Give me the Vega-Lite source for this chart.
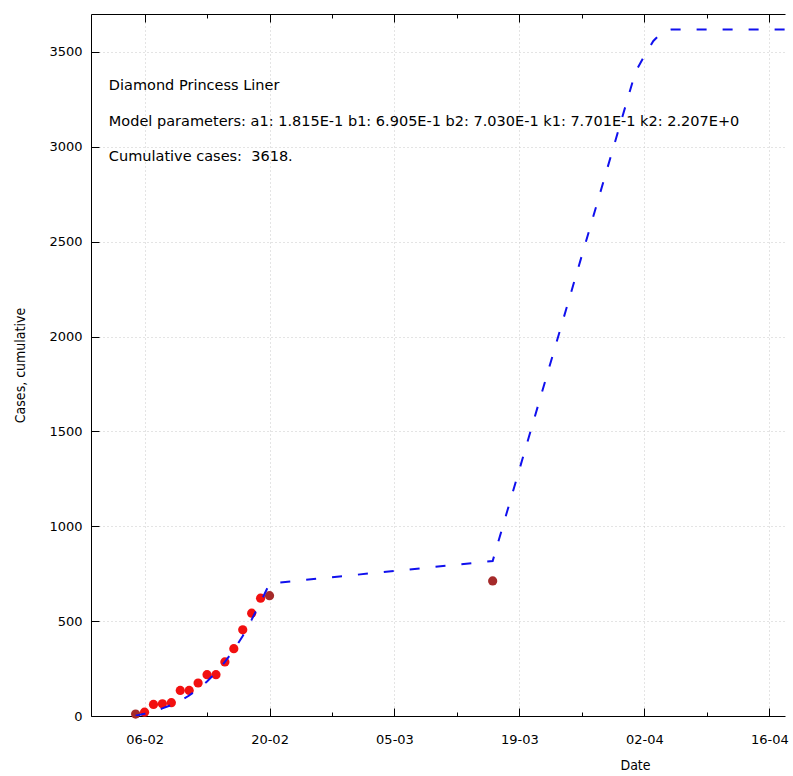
{
  "$schema": "https://vega.github.io/schema/vega-lite/v6.json",
  "width": 694,
  "height": 702,
  "autosize": {"type": "none"},
  "padding": {"left": 91, "top": 14, "right": 8, "bottom": 60},
  "background": "white",
  "config": {
    "view": {"stroke": null},
    "axis": {
      "domainColor": "black",
      "domainWidth": 1,
      "tickColor": "black",
      "tickWidth": 1,
      "labelColor": "black",
      "titleColor": "black",
      "labelFont": "DejaVu Sans",
      "labelFontSize": 13,
      "titleFont": "DejaVu Sans Condensed, Liberation Sans Narrow, DejaVu Sans",
      "titleFontSize": 14,
      "titleFontWeight": "normal",
      "gridColor": "#c8c8c8",
      "gridDash": [1, 3],
      "gridWidth": 1,
      "labelOverlap": false,
      "labelFlush": false
    }
  },
  "resolve": {"axis": {"x": "independent", "y": "independent"}},
  "layer": [
    {
      "data": {
        "values": [
          {"date": "2020-02-05T00:00", "cases": 10, "type": "excluded"},
          {"date": "2020-02-06T00:00", "cases": 20, "type": "fitted"},
          {"date": "2020-02-07T00:00", "cases": 61, "type": "fitted"},
          {"date": "2020-02-08T00:00", "cases": 64, "type": "fitted"},
          {"date": "2020-02-09T00:00", "cases": 70, "type": "fitted"},
          {"date": "2020-02-10T00:00", "cases": 135, "type": "fitted"},
          {"date": "2020-02-11T00:00", "cases": 135, "type": "fitted"},
          {"date": "2020-02-12T00:00", "cases": 174, "type": "fitted"},
          {"date": "2020-02-13T00:00", "cases": 218, "type": "fitted"},
          {"date": "2020-02-14T00:00", "cases": 218, "type": "fitted"},
          {"date": "2020-02-15T00:00", "cases": 285, "type": "fitted"},
          {"date": "2020-02-16T00:00", "cases": 355, "type": "fitted"},
          {"date": "2020-02-17T00:00", "cases": 454, "type": "fitted"},
          {"date": "2020-02-18T00:00", "cases": 542, "type": "fitted"},
          {"date": "2020-02-19T00:00", "cases": 621, "type": "fitted"},
          {"date": "2020-02-20T00:00", "cases": 634, "type": "excluded"},
          {"date": "2020-03-16T00:00", "cases": 712, "type": "excluded"}
        ]
      },
      "mark": {"type": "point", "filled": true, "size": 85, "opacity": 1},
      "encoding": {
        "x": {
          "field": "date",
          "type": "temporal",
          "scale": {"domain": [{"year": 2020, "month": 1, "date": 31}, {"year": 2020, "month": 4, "date": 17, "hours": 18}]},
          "axis": {
            "orient": "bottom",
            "title": "Date",
            "values": [
              {"year": 2020, "month": 2, "date": 6},
              {"year": 2020, "month": 2, "date": 13},
              {"year": 2020, "month": 2, "date": 20},
              {"year": 2020, "month": 2, "date": 27},
              {"year": 2020, "month": 3, "date": 5},
              {"year": 2020, "month": 3, "date": 12},
              {"year": 2020, "month": 3, "date": 19},
              {"year": 2020, "month": 3, "date": 26},
              {"year": 2020, "month": 4, "date": 2},
              {"year": 2020, "month": 4, "date": 9},
              {"year": 2020, "month": 4, "date": 16}
            ],
            "format": "%d-%m",
            "labelExpr": "round((datum.value - time(datetime(2020,1,6)))/86400000) % 14 == 0 ? datum.label : ''",
            "grid": true,
            "gridOpacity": {"condition": {"test": "round((datum.value - time(datetime(2020,1,6)))/86400000) % 14 == 0", "value": 1}, "value": 0},
            "tickSize": -8,
            "tickDash": {"condition": {"test": "round((datum.value - time(datetime(2020,1,6)))/86400000) % 14 == 0", "value": [8, 4]}, "value": [4, 20]},
            "labelPadding": 25,
            "labelBaseline": "top",
            "titleX": 544,
            "titleY": 49,
            "titleAlign": "center",
            "titleBaseline": "middle"
          }
        },
        "y": {
          "field": "cases",
          "type": "quantitative",
          "scale": {"domain": [0, 3700], "nice": false},
          "axis": {
            "orient": "left",
            "values": [0, 500, 1000, 1500, 2000, 2500, 3000, 3500],
            "format": "d",
            "grid": true,
            "tickSize": -8,
            "labelPadding": 17,
            "title": "Cases, cumulative",
            "titleX": -71,
            "titleY": 351,
            "titleAngle": -90,
            "titleAlign": "center",
            "titleBaseline": "middle"
          }
        },
        "color": {
          "field": "type",
          "type": "nominal",
          "scale": {"domain": ["fitted", "excluded"], "range": ["#f21010", "#a52a2a"]},
          "legend": null
        }
      }
    },
    {
      "data": {
        "values": [
          {"date": "2020-02-05T00:00", "model": 2},
          {"date": "2020-02-06T00:00", "model": 12},
          {"date": "2020-02-07T00:00", "model": 25},
          {"date": "2020-02-08T00:00", "model": 40},
          {"date": "2020-02-09T00:00", "model": 58},
          {"date": "2020-02-10T00:00", "model": 80},
          {"date": "2020-02-11T00:00", "model": 108},
          {"date": "2020-02-12T00:00", "model": 142},
          {"date": "2020-02-13T00:00", "model": 182},
          {"date": "2020-02-14T00:00", "model": 230},
          {"date": "2020-02-15T00:00", "model": 285},
          {"date": "2020-02-16T00:00", "model": 348},
          {"date": "2020-02-17T00:00", "model": 422},
          {"date": "2020-02-18T00:00", "model": 508},
          {"date": "2020-02-19T00:00", "model": 600},
          {"date": "2020-02-20T00:00", "model": 698},
          {"date": "2020-03-16T00:00", "model": 817},
          {"date": "2020-04-01T00:00", "model": 3395},
          {"date": "2020-04-02T00:00", "model": 3480},
          {"date": "2020-04-03T00:00", "model": 3558},
          {"date": "2020-04-04T00:00", "model": 3605},
          {"date": "2020-04-05T00:00", "model": 3618},
          {"date": "2020-04-18T00:00", "model": 3618}
        ]
      },
      "mark": {"type": "line", "color": "#1010ee", "strokeWidth": 2, "strokeDash": [10, 16], "clip": true},
      "encoding": {
        "x": {
          "field": "date",
          "type": "temporal",
          "axis": {
            "orient": "top",
            "title": null,
            "labels": false,
            "grid": false,
            "values": [
              {"year": 2020, "month": 2, "date": 6},
              {"year": 2020, "month": 2, "date": 13},
              {"year": 2020, "month": 2, "date": 20},
              {"year": 2020, "month": 2, "date": 27},
              {"year": 2020, "month": 3, "date": 5},
              {"year": 2020, "month": 3, "date": 12},
              {"year": 2020, "month": 3, "date": 19},
              {"year": 2020, "month": 3, "date": 26},
              {"year": 2020, "month": 4, "date": 2},
              {"year": 2020, "month": 4, "date": 9},
              {"year": 2020, "month": 4, "date": 16}
            ],
            "tickSize": -8,
            "tickDash": {"condition": {"test": "round((datum.value - time(datetime(2020,1,6)))/86400000) % 14 == 0", "value": [8, 4]}, "value": [4, 20]}
          }
        },
        "y": {"field": "model", "type": "quantitative", "axis": null}
      }
    },
    {
      "data": {
        "values": [
          {"date": "2020-02-02T00:00", "cases": 3300, "label": "Diamond Princess Liner"},
          {"date": "2020-02-02T00:00", "cases": 3110, "label": "Model parameters: a1: 1.815E-1 b1: 6.905E-1 b2: 7.030E-1 k1: 7.701E-1 k2: 2.207E+0"},
          {"date": "2020-02-02T00:00", "cases": 2926, "label": "Cumulative cases: \u00a03618."}
        ]
      },
      "mark": {"type": "text", "align": "left", "baseline": "alphabetic", "font": "DejaVu Sans", "fontSize": 14.5, "color": "black"},
      "encoding": {
        "x": {"field": "date", "type": "temporal", "axis": null},
        "y": {"field": "cases", "type": "quantitative", "axis": null},
        "text": {"field": "label"}
      }
    }
  ]
}
